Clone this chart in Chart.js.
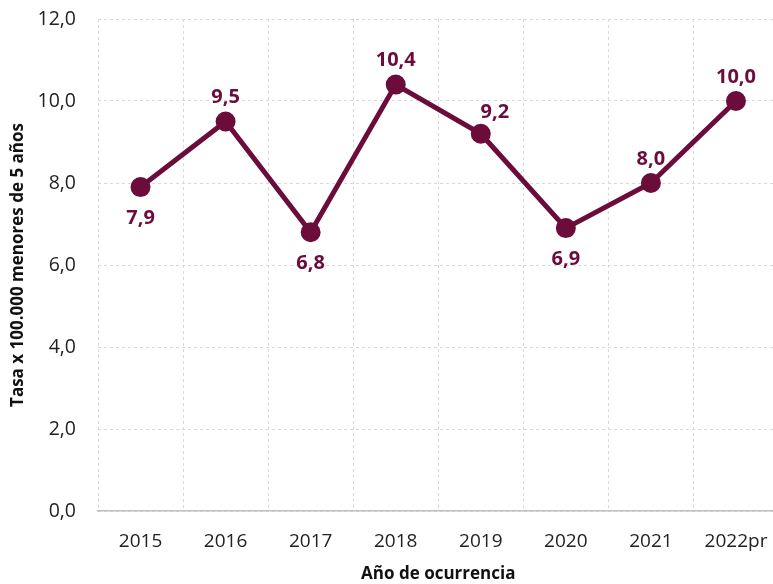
<!DOCTYPE html>
<html>
<head>
<meta charset="utf-8">
<script src="https://cdn.jsdelivr.net/npm/chart.js@4/dist/chart.umd.min.js"></script>
<style>
  html, body { margin: 0; padding: 0; background: #fff; overflow: hidden; }
  #wrap { width: 791px; height: 584px; }
</style>
</head>
<body>
<div id="wrap"><canvas id="tasaChart"></canvas></div>
<script>
// ----------------- datos -----------------
const anios = ['2015', '2016', '2017', '2018', '2019', '2020', '2021', '2022pr'];
const tasas = [7.9, 9.5, 6.8, 10.4, 9.2, 6.9, 8.0, 10.0];
const posEtiqueta = ['below', 'above', 'below', 'above', 'aboveRight', 'below', 'above', 'above'];

const granate = '#6B0C3B';
const fuente = '"Open Sans", sans-serif';
const fmt = v => v.toFixed(1).replace('.', ',');

// etiquetas de valor sobre/bajo cada punto
const etiquetasPlugin = {
  id: 'etiquetas',
  afterDatasetsDraw(chart) {
    const ctx = chart.ctx;
    const meta = chart.getDatasetMeta(0);
    ctx.save();
    ctx.font = 'bold 20px ' + fuente;
    ctx.fillStyle = granate;
    ctx.textAlign = 'center';
    ctx.textBaseline = 'middle';
    meta.data.forEach((pt, i) => {
      const p = posEtiqueta[i];
      let dx = 0, dy = -24;
      if (p === 'below') dy = 31;
      if (p === 'aboveRight') { dx = 14; dy = -22; }
      ctx.fillText(fmt(tasas[i]), pt.x + dx, pt.y + dy);
    });
    ctx.restore();
  }
};

new Chart(document.getElementById('tasaChart'), {
  type: 'line',
  data: {
    labels: anios,
    datasets: [{
      data: tasas,
      borderColor: granate,
      backgroundColor: granate,
      borderWidth: 5,
      pointRadius: 7.5,
      pointHoverRadius: 7.5,
      tension: 0
    }]
  },
  options: {
    responsive: true,
    maintainAspectRatio: false,
    animation: false,
    layout: { padding: { top: 19, right: 0, left: 0, bottom: 0 } },
    plugins: { legend: { display: false }, tooltip: { enabled: false } },
    scales: {
      x: {
        offset: true,
        afterFit: s => { s.height = 73; s.paddingLeft = 0; s.paddingRight = 0; },
        grid: { offset: true, color: '#d9d9d9', lineWidth: 1, drawTicks: false },
        border: { display: true, color: '#bfbfbf', width: 1.5, dash: [3, 3] },
        ticks: { color: '#222', font: { family: fuente, size: 19 }, padding: 19, maxRotation: 0 },
        title: { display: true, text: 'Año de ocurrencia', color: '#111', font: { family: fuente, size: 17, weight: 'bold' }, padding: { top: 2, bottom: 0 } }
      },
      y: {
        min: 0,
        max: 12,
        afterFit: s => { s.width = 98; s.paddingTop = 0; s.paddingBottom = 0; },
        ticks: { stepSize: 2, color: '#222', font: { family: fuente, size: 19.5 }, padding: 22, callback: v => fmt(v) },
        grid: { color: '#d9d9d9', lineWidth: 1, drawTicks: false },
        border: { display: false, dash: [3, 3] },
        title: { display: true, text: 'Tasa x 100.000 menores de 5 años', color: '#111', font: { family: fuente, size: 17, weight: 'bold' }, padding: { top: 8, bottom: 4 } }
      }
    }
  },
  plugins: [etiquetasPlugin]
});
</script>
</body>
</html>
